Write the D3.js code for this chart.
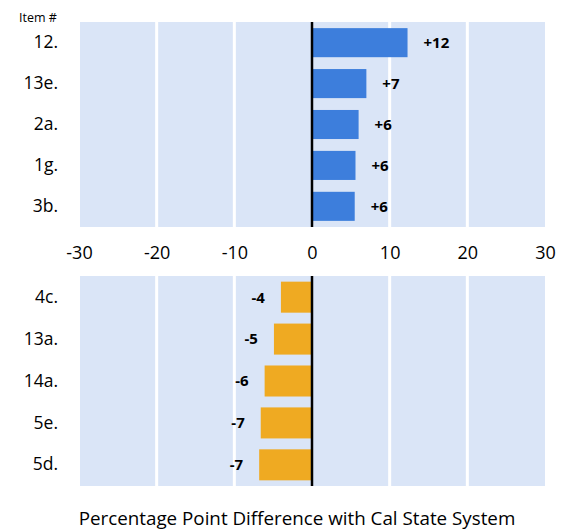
<!DOCTYPE html>
<html>
<head>
<meta charset="utf-8">
<script src="https://cdn.jsdelivr.net/npm/d3@7"></script>
<style>
  html, body { margin: 0; padding: 0; background: #fff; }
  svg { display: block; font-family: "Open Sans", Lato, sans-serif; }
</style>
</head>
<body>
<svg id="chart" width="570" height="531"></svg>
<script>
const topItems = ["12.", "13e.", "2a.", "1g.", "3b."];
const topValues = [12.3, 7.0, 6.0, 5.6, 5.5];
const topLabels = ["+12", "+7", "+6", "+6", "+6"];

const bottomItems = ["4c.", "13a.", "14a.", "5e.", "5d."];
const bottomValues = [-4.0, -4.9, -6.1, -6.6, -6.8];
const bottomLabels = ["-4", "-5", "-6", "-7", "-7"];

const xTicks = [-30, -20, -10, 0, 10, 20, 30];
const gridTicks = [-20, -10, 10, 20];

const FONT = "'Open Sans', Lato, sans-serif";
const svg = d3.select("#chart");
const x = d3.scaleLinear().domain([-30, 30]).range([79, 545]);

function panel(items, values, labels, y0, y1, pi, po, color) {
  const y = d3.scaleBand().domain(items).range([y0, y1]).paddingInner(pi).paddingOuter(po);
  const g = svg.append("g");
  g.append("rect")
    .attr("x", x(-30) + 1).attr("y", y0)
    .attr("width", x(30) - x(-30) - 1).attr("height", y1 - y0)
    .attr("fill", "#dae5f7");
  g.selectAll("line.grid").data(gridTicks).join("line")
    .attr("class", "grid")
    .attr("x1", d => x(d)).attr("x2", d => x(d))
    .attr("y1", y0).attr("y2", y1)
    .attr("stroke", "#fff").attr("stroke-width", 3);
  g.selectAll("rect.bar").data(items).join("rect")
    .attr("class", "bar")
    .attr("x", (d, i) => Math.min(x(0), x(values[i])))
    .attr("y", d => y(d))
    .attr("width", (d, i) => Math.abs(x(values[i]) - x(0)))
    .attr("height", y.bandwidth())
    .attr("fill", color);
  g.append("line")
    .attr("x1", x(0)).attr("x2", x(0))
    .attr("y1", y0).attr("y2", y1)
    .attr("stroke", "#000").attr("stroke-width", 2.5);
  g.selectAll("text.val").data(items).join("text")
    .attr("class", "val")
    .attr("x", (d, i) => values[i] >= 0 ? x(values[i]) + 16 : x(values[i]) - 16)
    .attr("y", d => y(d) + y.bandwidth() / 2)
    .attr("dy", "0.36em")
    .attr("text-anchor", (d, i) => values[i] >= 0 ? "start" : "end")
    .attr("font-size", 15).attr("font-weight", "bold")
    .attr("font-family", FONT)
    .attr("fill", "#000")
    .text((d, i) => labels[i]);
  const ax = d3.axisLeft(y).tickSize(0).tickPadding(0);
  const ag = g.append("g").attr("transform", "translate(58,0)").call(ax);
  ag.select(".domain").remove();
  ag.selectAll("text").attr("font-size", 17.5).attr("font-family", FONT).attr("fill", "#000");
}

panel(topItems, topValues, topLabels, 22, 227, 0.29, 0.15, "#3d7edc");
panel(bottomItems, bottomValues, bottomLabels, 276, 486, 0.26, 0.135, "#efaa22");

// shared x axis labels between panels
const xa = d3.axisBottom(x).tickValues(xTicks).tickSize(0).tickPadding(0).tickFormat(d => String(d));
const xg = svg.append("g").attr("transform", "translate(0,246.5)").call(xa);
xg.select(".domain").remove();
xg.selectAll("text").attr("font-size", 18).attr("font-family", FONT).attr("fill", "#000");

svg.append("text")
  .attr("x", 19).attr("y", 22)
  .attr("font-size", 12.5).attr("font-family", FONT).attr("fill", "#000")
  .text("Item #");

svg.append("text")
  .attr("x", 297).attr("y", 525)
  .attr("text-anchor", "middle")
  .attr("font-size", 18.8).attr("font-family", FONT).attr("fill", "#000")
  .text("Percentage Point Difference with Cal State System");
</script>
</body>
</html>
